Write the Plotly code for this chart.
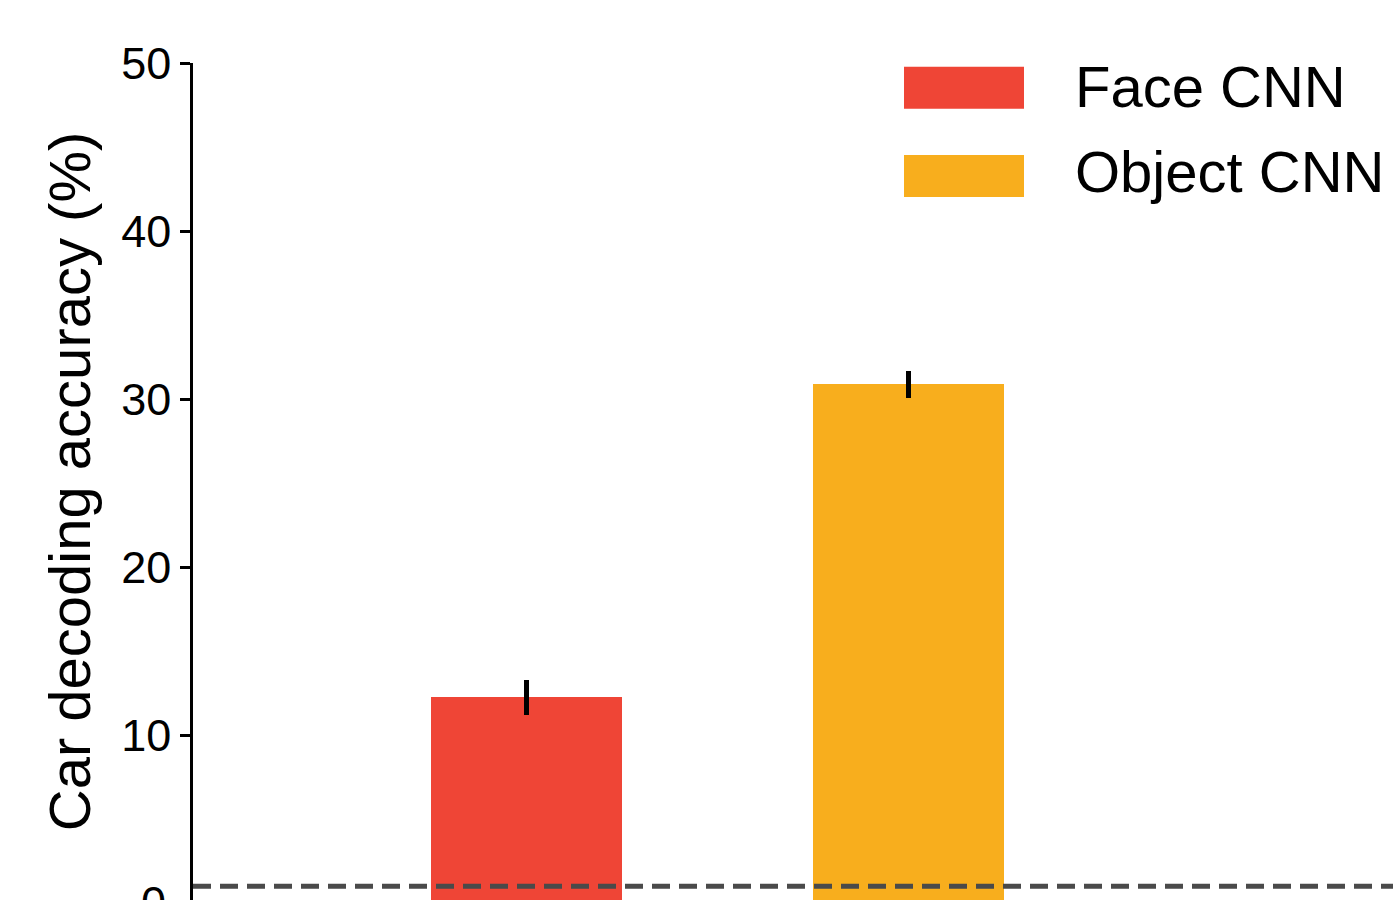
import plotly.graph_objects as go

categories = ["Face CNN", "Object CNN"]
accuracy = [12.25, 30.87]
sem = [1.05, 0.8]
colors = ["#EF4536", "#F8AE1D"]
chance = 1.0
y_ticks = [0, 10, 20, 30, 40, 50]

FONT = "Liberation Sans, Arial, Helvetica, sans-serif"
L, W, T, H = 193, 1200, 63, 837

fig = go.Figure()
fig.add_trace(go.Bar(
    x=categories, y=accuracy, width=0.5,
    marker=dict(color=colors, line=dict(width=0)),
    error_y=dict(type="data", array=sem, visible=True, color="black", thickness=5, width=0),
    showlegend=False,
))

fig.add_shape(type="line", xref="paper", yref="y", x0=0, x1=1, y0=chance, y1=chance,
              line=dict(color="#4a4a4a", width=5, dash="18px,9px"), layer="above")

# "0" tick label partially visible at bottom edge (as in the reference)
fig.add_annotation(text=str(y_ticks[0]), xref="paper", yref="paper", x=(168 - L) / W, y=-3 / H,
                   xanchor="right", yanchor="middle", showarrow=False,
                   font=dict(family=FONT, size=45, color="black"))

# manual legend
sw_y = [87.7, 176]
txt_y = [86, 171]
for i, (name, c) in enumerate(zip(categories, colors)):
    yc = 1 - (sw_y[i] - T) / H
    h = 21 / H
    fig.add_shape(type="rect", xref="paper", yref="paper",
                  x0=(904 - L) / W, x1=(1024 - L) / W, y0=yc - h, y1=yc + h,
                  fillcolor=c, line=dict(width=0))
    fig.add_annotation(text=name, xref="paper", yref="paper", x=(1073 - L) / W,
                       y=1 - (txt_y[i] - T) / H,
                       xanchor="left", yanchor="middle", showarrow=False,
                       font=dict(family=FONT, size=58, color="black"))

fig.update_layout(
    width=1393, height=900,
    margin=dict(l=L, r=0, t=T, b=0),
    plot_bgcolor="white", paper_bgcolor="white",
    font=dict(family=FONT, color="black"),
    bargap=0,
    xaxis=dict(type="category", range=[-0.8735, 2.2695], showticklabels=False, ticks="",
               showline=False, showgrid=False, zeroline=False),
    yaxis=dict(range=[0.179, 50], tickvals=y_ticks, ticks="outside", ticklen=10, tickwidth=2.5,
               tickcolor="black", showline=True, linewidth=2.5, linecolor="black",
               showgrid=False, zeroline=False, tickfont=dict(size=45, family=FONT),
               title=dict(text="Car decoding accuracy (%)", font=dict(size=58, family=FONT),
                          standoff=12)),
)

fig.write_html("out.html")
